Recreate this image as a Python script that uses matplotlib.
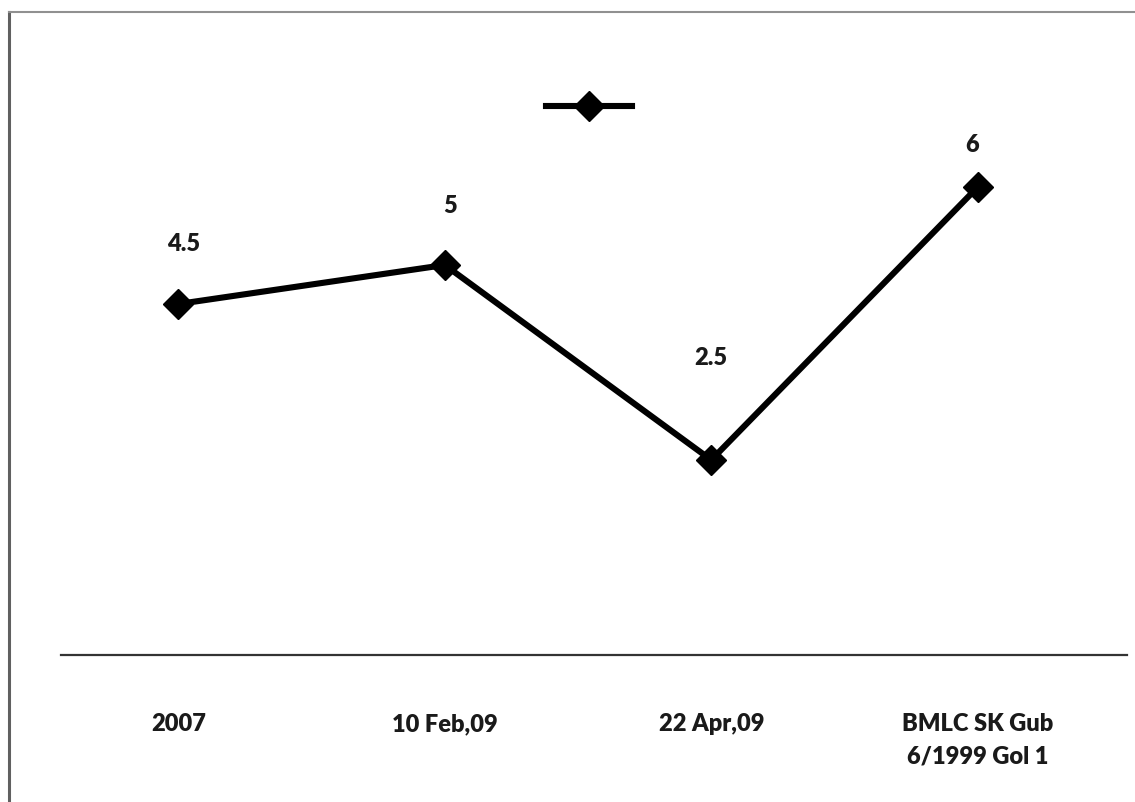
import matplotlib
matplotlib.use('Agg')
from matplotlib import pyplot as plt
from matplotlib.lines import Line2D

plt.rcParams['font.family'] = ['Lato', 'DejaVu Sans']

#data
categories = ['2007', '10 Feb,09', '22 Apr,09', 'BMLC SK Gub\n6/1999 Gol 1']
values = [4.5, 5, 2.5, 6]

#label offsets above each point (in points)
label_offsets = [(4, 44), (4, 43), (0, 74), (-4, 31)]

fig = plt.figure(figsize=(11.35, 8.03), dpi=100)
ax = fig.add_axes([61 / 1135, 147 / 803, 1066 / 1135, 624 / 803])

line, = ax.plot(range(len(values)), values, color='black', linewidth=4.4,
                marker='D', markersize=15, markeredgewidth=1,
                markerfacecolor='black', markeredgecolor='black',
                solid_joinstyle='miter')

for i, v in enumerate(values):
    ax.annotate(f'{v:g}', (i, v), xytext=label_offsets[i], textcoords='offset points',
                ha='center', va='center', fontsize=17, fontweight='heavy', color='#1a1a1a')

ax.set_xlim(-0.44, 3.56)
ax.set_ylim(0, 8)

#category axis line only
for side in ['top', 'right', 'left']:
    ax.spines[side].set_visible(False)
ax.spines['bottom'].set_color('#333333')
ax.spines['bottom'].set_linewidth(1.6)
ax.set_yticks([])
ax.set_xticks(range(len(categories)))
ax.set_xticklabels(categories, fontsize=17, fontweight='heavy', color='#1a1a1a',
                   linespacing=1.6, va='top')
ax.tick_params(axis='x', length=0, pad=41)

#legend: marker only, no text
ax.legend([line], [''], loc='center', bbox_to_anchor=(589 / 1135, 1 - 108 / 803),
          bbox_transform=fig.transFigure, frameon=False, handlelength=4.4,
          handletextpad=0, borderpad=0, fontsize=14)

#outer border on left and top
fig.add_artist(Line2D([9 / 1135, 9 / 1135], [0, 1 - 13 / 803], color='#606060',
                      linewidth=2.2, transform=fig.transFigure))
fig.add_artist(Line2D([9 / 1135, 1], [1 - 13 / 803, 1 - 13 / 803], color='#909090',
                      linewidth=1.5, transform=fig.transFigure))

fig.savefig('out.png', dpi=100)
